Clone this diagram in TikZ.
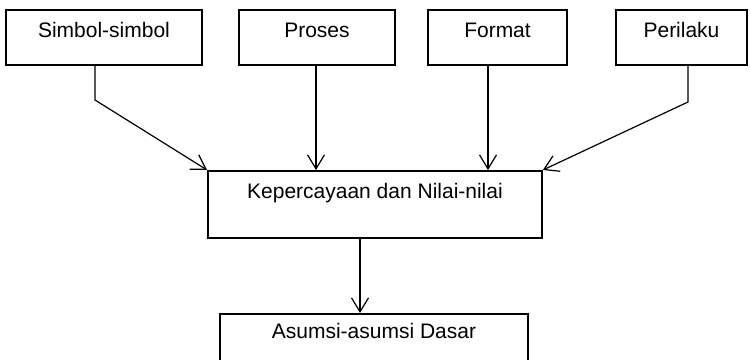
\documentclass[tikz,border=0pt]{standalone}
\usepackage{fontspec}
\setsansfont{Liberation Sans}
\usetikzlibrary{positioning, arrows.meta}

\begin{document}
\begin{tikzpicture}[
    x=0.5pt, y=-0.5pt,
    box/.style={rectangle, draw, line width=0.9pt, inner sep=0pt, anchor=north, font=\sffamily\fontsize{10.5}{12}\selectfont, text height=14pt, text depth=13.5pt},
    arr/.style={-{Straight Barb[length=7pt, width=8.5pt]}, line width=0.6pt}
]
\useasboundingbox (0,0) rectangle (750,359);
\clip (0,0) rectangle (750,359);

% top row
\node[box, minimum width=98pt] (simbol) at (104,9) {Simbol-simbol};
\node[box, minimum width=78pt] (proses) at (317,9) {Proses};
\node[box, minimum width=69.5pt] (format) at (497.5,9) {Format};
\node[box, minimum width=65.5pt] (perilaku) at (681.5,9) {Perilaku};

% middle and bottom
\node[box, minimum width=167pt, text depth=19.5pt] (nilai) at (375,170) {Kepercayaan dan Nilai-nilai};
\node[box, minimum width=154pt, text height=12.5pt, text depth=30pt] (asumsi) at (374,313) {Asumsi-asumsi Dasar};

\coordinate (simbolbend) at (95,100);
\coordinate (prosesx) at (316,0);
\coordinate (formatx) at (488,0);
\coordinate (perilakubend) at (688,102);
\coordinate (asumsix) at (360,0);

\draw[arr] (simbol.south -| simbolbend) -- (simbolbend) -- (nilai.north west);
\draw[arr] (proses.south -| prosesx) -- (nilai.north -| prosesx);
\draw[arr] (format.south -| formatx) -- (nilai.north -| formatx);
\draw[arr] (perilaku.south -| perilakubend) -- (perilakubend) -- (nilai.north east);
\draw[arr] (nilai.south -| asumsix) -- (asumsi.north -| asumsix);

\end{tikzpicture}
\end{document}
